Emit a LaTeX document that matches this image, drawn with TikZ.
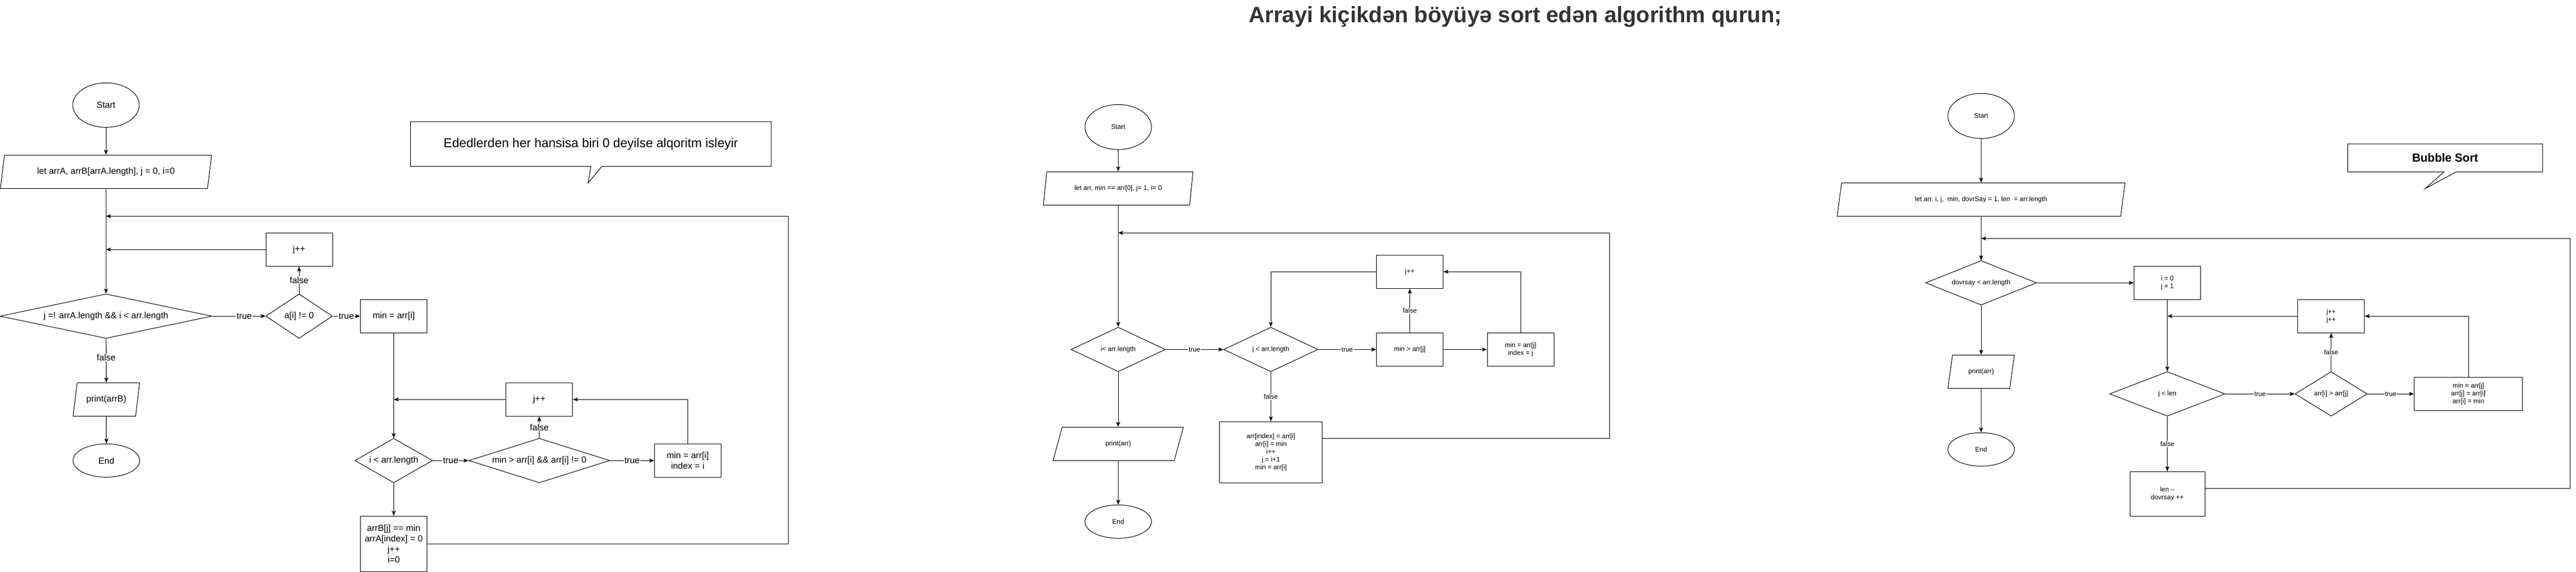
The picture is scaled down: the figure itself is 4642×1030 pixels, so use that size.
\documentclass[tikz,border=0pt]{standalone}
\usepackage{fontspec}
\setmainfont{Liberation Sans}
\usetikzlibrary{shapes.geometric,arrows.meta}

\definecolor{titlegray}{HTML}{333333}

\tikzset{
  box/.style={draw, line width=1pt, inner sep=0pt, align=center},
  terminal/.style={box, ellipse, minimum width=120pt, minimum height=60pt},
  process/.style={box, rectangle, minimum width=120pt, minimum height=60pt},
  io/.style={box, trapezium, trapezium left angle=71.57, trapezium right angle=108.43,
    trapezium stretches=true, minimum width=120pt, minimum height=60pt},
  decision/.style={box, diamond, minimum height=80pt},
  flow/.style={line width=1pt, -{Stealth[length=9pt,width=7pt,inset=2pt]}},
  link/.style={line width=1pt},
  lbl/.style={fill=white, inner sep=1pt},
  bigtext/.style={font=\fontsize{16}{19}\selectfont},
  smalltext/.style={font=\fontsize{12}{14}\selectfont}
}

\begin{document}
\begin{tikzpicture}[x=1pt, y=-1pt]
  \useasboundingbox (0,0) rectangle (4642,1030);

  \node[font=\fontsize{40}{48}\selectfont\bfseries, text=titlegray, anchor=base] (Title) at (2731,41)
    {Arrayi kiçikdən böyüyə sort edən algorithm qurun;};

  \begin{scope}[bigtext]
  \node[terminal, minimum height=80pt] (StartA) at (191,189.3) {Start};
  \node[io, minimum width=382pt] (InitA) at (191,309.3) {let arrA, arrB[arrA.length], j = 0, i=0};
  \node[decision, minimum width=382pt, aspect=4.8] (CondA) at (191,569.3) {j =! arrA.length \&\& i < arr.length};
  \node[decision, minimum width=120pt, aspect=1.5] (NonZero) at (539,569.3) {a[i] != 0};
  \node[process] (SkipA) at (539,449.3) {j++};
  \node[process] (MinA) at (709.5,569.3) {min = arr[i]};
  \node[decision, minimum width=140pt, aspect=1.75] (InnerA) at (709.5,829.3) {i < arr.length};
  \node[decision, minimum width=254pt, aspect=3.2] (SmallerA) at (971.8,829.3) {min > arr[i] \&\& arr[i] != 0};
  \node[process] (IncA) at (971.8,719.3) {j++};
  \node[process] (IndexA) at (1239.3,829.3) {min = arr[i]\\index = i};
  \node[process, minimum height=100pt] (StoreA) at (709.5,979.3) {arrB[j] == min\\arrA[index] = 0\\j++\\i=0};
  \node[io] (PrintA) at (191.7,719.3) {print(arrB)};
  \node[terminal] (EndA) at (191.7,829.3) {End};
  \coordinate (LoopA) at (1420.6,389.3);

  \draw[flow] (StartA) -- (InitA);
  \draw[flow] (InitA) -- (CondA);
  \draw[flow] (CondA) -- node[lbl, pos=0.6] {true} (NonZero);
  \draw[flow] (NonZero) -- node[lbl] {true} (MinA);
  \draw[flow] (NonZero) -- node[lbl] {false} (SkipA);
  \draw[flow] (SkipA) -- (SkipA -| InitA);
  \draw[flow] (MinA) -- (InnerA);
  \draw[flow] (InnerA) -- node[lbl] {true} (SmallerA);
  \draw[flow] (SmallerA) -- node[lbl] {false} (IncA);
  \draw[flow] (SmallerA) -- node[lbl] {true} (IndexA);
  \draw[flow] (IndexA) |- (IncA);
  \draw[flow] (IncA) -- (IncA -| MinA);
  \draw[flow] (InnerA) -- (StoreA);
  \draw[flow] (StoreA) -| (LoopA) -- (LoopA -| InitA);
  \draw[flow] (CondA) -- node[lbl, pos=0.43] {false} (PrintA);
  \draw[flow] (PrintA) -- (EndA);
  \end{scope}

  \node[minimum width=650pt, minimum height=80pt, font=\fontsize{23}{28}\selectfont] (NoteA) at (1064.75,259.3)
    {Ededlerden her hansisa biri 0 deyilse alqoritm isleyir};
  \draw[link] (NoteA.north west) -- (NoteA.north east) -- (NoteA.south east) -- ([xshift=20pt]NoteA.south)
    -- ([xshift=-5pt, yshift=-30pt]NoteA.south) -- (NoteA.south) -- (NoteA.south west) -- cycle;

  \begin{scope}[smalltext]
  \node[terminal, minimum height=81pt] (StartB) at (2015,228.8) {Start};
  \node[io, minimum width=270pt] (InitB) at (2015,339.3) {let arr, min == arr[0], j= 1, i= 0};
  \node[decision, minimum width=170pt, aspect=2.1] (OuterB) at (2015,629.3) {i< arr.length};
  \node[decision, minimum width=170pt, aspect=2.1] (InnerB) at (2290,629.3) {j < arr.length};
  \node[process] (CompareB) at (2540.5,629.3) {min > arr[j]};
  \node[process] (SetMinB) at (2740,629.3) {min = arr[j]\\index = j};
  \node[process] (IncB) at (2540.5,489.3) {j++};
  \node[process, minimum width=185pt, minimum height=110pt] (SwapB) at (2290.3,814.3)
    {arr[index] = arr[i]\\arr[i] = min\\i++\\j = i+1\\min = arr[i]};
  \node[io, minimum width=235pt] (PrintB) at (2015,799.3) {print(arr)};
  \node[terminal] (EndB) at (2015,939.3) {End};
  \coordinate (LoopB) at (2900,419.3);

  \draw[flow] (StartB) -- (InitB);
  \draw[flow] (InitB) -- (OuterB);
  \draw[flow] (OuterB) -- node[lbl] {true} (InnerB);
  \draw[flow] (InnerB) -- node[lbl] {true} (CompareB);
  \draw[flow] (CompareB) -- (SetMinB);
  \draw[flow] (CompareB) -- node[lbl] {false} (IncB);
  \draw[flow] (SetMinB) |- (IncB);
  \draw[flow] (IncB) -| (InnerB);
  \draw[flow] (InnerB) -- node[lbl] {false} (SwapB);
  \draw[flow] ([yshift=25pt]SwapB.east) -| (LoopB) -- (LoopB -| InitB);
  \draw[flow] (OuterB) -- (PrintB);
  \draw[flow] (PrintB) -- (EndB);

  \node[terminal, minimum height=81pt] (StartC) at (3570,208.8) {Start};
  \node[io, minimum width=519pt] (InitC) at (3570,359.3) {let arr, i, j,~ min, dovrSay = 1, len~ = arr.length};
  \node[decision, minimum width=200pt, aspect=2.5] (RoundC) at (3570,509.3) {dovrsay < arr.length};
  \node[process] (ResetC) at (3905.5,509.3) {i = 0\\j = 1};
  \node[decision, minimum width=208pt, aspect=2.6] (PassC) at (3905.5,709.3) {j < len};
  \node[decision, minimum width=130pt, aspect=1.6] (CompareC) at (4200.7,709.3) {arr[i] > arr[j]};
  \node[process] (StepC) at (4200.7,569.3) {j++\\j++};
  \node[process, minimum width=195pt] (SwapC) at (4448,709.3) {min = arr[j]\\arr[j] = arr[i]\\arr[i] = min};
  \node[process, minimum width=135pt, minimum height=80pt] (ShrinkC) at (3905.5,889.3) {len --\\dovrsay ++};
  \node[io] (PrintC) at (3570,669.3) {print(arr)};
  \node[terminal] (EndC) at (3570,809.3) {End};
  \coordinate (LoopC) at (4631,429.3);

  \draw[flow] (StartC) -- (InitC);
  \draw[flow] (InitC) -- (RoundC);
  \draw[flow] (RoundC) -- (ResetC);
  \draw[flow] (RoundC) -- (PrintC);
  \draw[flow] (PrintC) -- (EndC);
  \draw[flow] (ResetC) -- (PassC);
  \draw[flow] (PassC) -- node[lbl] {true} (CompareC);
  \draw[flow] (CompareC) -- node[lbl] {false} (StepC);
  \draw[flow] (CompareC) -- node[lbl] {true} (SwapC);
  \draw[flow] (SwapC) |- (StepC);
  \draw[flow] (StepC) -- (StepC -| ResetC);
  \draw[flow] (PassC) -- node[lbl] {false} (ShrinkC);
  \draw[flow] ([yshift=10pt]ShrinkC.east) -| (LoopC) -- (LoopC -| InitC);
  \end{scope}

  \node[minimum width=351pt, minimum height=50pt, font=\fontsize{21}{25}\selectfont\bfseries] (NoteC) at (4406.2,284.3)
    {Bubble Sort};
  \draw[link] (NoteC.north west) -- (NoteC.north east) -- (NoteC.south east) -- ([xshift=20pt]NoteC.south)
    -- ([xshift=-36pt, yshift=-30pt]NoteC.south) -- ([xshift=-2pt]NoteC.south) -- (NoteC.south west) -- cycle;
\end{tikzpicture}
\end{document}
